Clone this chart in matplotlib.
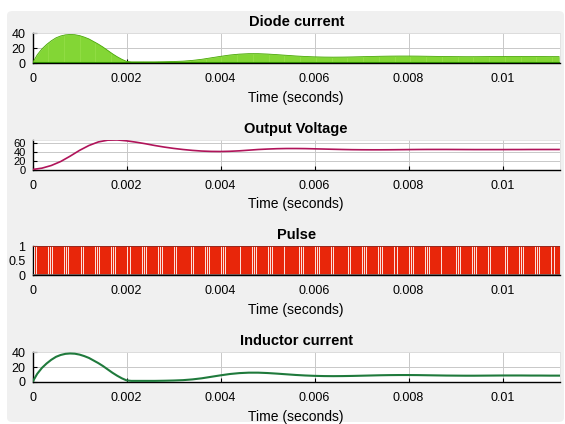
import numpy as np
import matplotlib
matplotlib.use("Agg")
import matplotlib.pyplot as plt
from matplotlib.patches import FancyBboxPatch

# ---------------- data ----------------
t_il = [0, 0.0001, 0.0002, 0.0003, 0.0004, 0.0005, 0.0006, 0.0007, 0.0008, 0.0009,
        0.0010, 0.0011, 0.0012, 0.0013, 0.0014, 0.0015, 0.0016, 0.0017, 0.0018, 0.0019,
        0.0020, 0.0021, 0.0022, 0.0024, 0.0026, 0.0028, 0.0030, 0.0032, 0.0034, 0.0036,
        0.0038, 0.0040, 0.0042, 0.0044, 0.0046, 0.0048, 0.0050, 0.0052, 0.0054, 0.0056,
        0.0058, 0.0060, 0.0062, 0.0064, 0.0066, 0.0068, 0.0070, 0.0072, 0.0074, 0.0076,
        0.0078, 0.0080, 0.0082, 0.0084, 0.0086, 0.0088, 0.0090, 0.0092, 0.0094, 0.0096,
        0.0098, 0.0100, 0.0102, 0.0104, 0.0106, 0.0108, 0.0110, 0.0112]
inductor_current = [0, 11, 19, 25, 30, 34, 36.5, 38, 38.5, 38.2,
                    37, 35, 32.5, 29, 25.5, 21.5, 17, 12.5, 8.5, 5,
                    2.2, 1.5, 1.5, 1.5, 1.5, 1.7, 2, 2.5, 3.5, 5,
                    7, 9, 10.8, 12, 12.6, 12.6, 12.1, 11.3, 10.4, 9.5,
                    8.8, 8.3, 8.0, 7.9, 8.0, 8.2, 8.5, 8.8, 9.1, 9.3,
                    9.4, 9.4, 9.3, 9.1, 8.9, 8.7, 8.6, 8.5, 8.5, 8.6,
                    8.7, 8.8, 8.8, 8.8, 8.7, 8.7, 8.6, 8.6]

t_v = [0, 0.0002, 0.0004, 0.0006, 0.0008, 0.0010, 0.0012, 0.0014, 0.0016, 0.0018,
       0.0020, 0.0022, 0.0024, 0.0026, 0.0028, 0.0030, 0.0032, 0.0034, 0.0036, 0.0038,
       0.0040, 0.0042, 0.0044, 0.0046, 0.0048, 0.0050, 0.0052, 0.0054, 0.0056, 0.0058,
       0.0060, 0.0062, 0.0064, 0.0066, 0.0068, 0.0070, 0.0072, 0.0074, 0.0076, 0.0078,
       0.0080, 0.0082, 0.0084, 0.0086, 0.0088, 0.0090, 0.0092, 0.0094, 0.0096, 0.0098,
       0.0100, 0.0102, 0.0104, 0.0106, 0.0108, 0.0110, 0.0112]
output_voltage = [0, 3, 9, 18, 30, 43, 54, 62, 66, 66.5,
                  64.5, 61.5, 58, 54, 50.5, 47.5, 45, 43, 41.5, 40.7,
                  40.5, 41, 42, 43.5, 45, 46, 46.8, 47.2, 47.2, 47,
                  46.5, 46, 45.5, 45, 44.6, 44.4, 44.3, 44.3, 44.4, 44.6,
                  44.8, 45, 45.1, 45.1, 45.1, 45, 44.9, 44.8, 44.8, 44.8,
                  44.8, 44.9, 44.9, 45, 45, 45, 45]

# pulse: groups of short off-intervals
pulse_group_period = 0.000334
pulse_gap_offsets = [0.0, 0.00004, 0.00008]
pulse_gap_width = 0.000018
diode_stripe_period = 0.00002

titles = ["Diode current", "Output Voltage", "Pulse", "Inductor current"]
xticks = [0, 0.002, 0.004, 0.006, 0.008, 0.01]
xtick_labels = ["0", "0.002", "0.004", "0.006", "0.008", "0.01"]
yticks = [[0, 20, 40], [0, 20, 40, 60], [0, 0.5, 1], [0, 20, 40]]
ytick_labels = [["0", "20", "40"], ["0", "20", "40", "60"], ["0", "0.5", "1"], ["0", "20", "40"]]
ylims = [(0, 40.5), (0, 67.5), (0, 1), (0, 40.5)]
t_end = 0.01122

# ---------------- figure ----------------
plt.rcParams['font.family'] = ['Liberation Sans', 'DejaVu Sans']
fig = plt.figure(figsize=(5.65, 4.24), dpi=100, facecolor='white')
W, H = 565, 424
bg = FancyBboxPatch((7 / W, 2 / H), 557 / W, 411 / H,
                    boxstyle="round,pad=0,rounding_size=0.01",
                    transform=fig.transFigure, facecolor='#f0f0f0',
                    edgecolor='none', zorder=-10)
fig.patches.append(bg)

panels = [(33, 63), (139.5, 169.5), (246, 275), (352, 382)]
axes = []
for i, (top, bot) in enumerate(panels):
    ax = fig.add_axes([32.5 / W, 1 - bot / H, (560 - 32.5) / W, (bot - top) / H])
    ax.set_facecolor('white')
    ax.set_xlim(0, t_end)
    ax.set_ylim(*ylims[i])
    ax.set_xticks(xticks)
    ax.set_xticklabels(xtick_labels)
    ax.set_yticks(yticks[i])
    ax.set_yticklabels(ytick_labels[i])
    ax.tick_params(direction='in', length=3, width=0.8, labelsize=9, pad=7.5,
                   colors='black')
    ax.tick_params(axis='y', pad=5, labelsize=8 if i == 1 else 9)
    ax.grid(True, color='#c8c8c8', linewidth=0.7)
    ax.set_axisbelow(True)
    for s in ['left', 'bottom']:
        ax.spines[s].set_color('black')
        ax.spines[s].set_linewidth(1.0)
    for s in ['top', 'right']:
        ax.spines[s].set_color('#e0e0e0')
        ax.spines[s].set_linewidth(0.6)
    ax.set_title(titles[i], fontsize=10.5, fontweight='bold', pad=5)
    ax.set_xlabel("Time (seconds)", fontsize=10, labelpad=4)
    axes.append(ax)

# Diode current (green, striped)
ax = axes[0]
poly = ax.fill_between(t_il, 0, inductor_current, color='#58c008', linewidth=0, zorder=2)
stripe_t = np.arange(0, t_end, diode_stripe_period)
vl = ax.vlines(stripe_t, 0, ylims[0][1], colors='#96e04a', linewidth=0.5, zorder=3)
vl.set_clip_path(poly.get_paths()[0], transform=ax.transData)
ax.plot(t_il, inductor_current, color='#4aa808', linewidth=0.6, zorder=4)
ax.axhline(0.4, color='#2e8a00', linewidth=1.5, zorder=4)

# Output voltage
axes[1].plot(t_v, output_voltage, color='#b0145a', linewidth=1.2, zorder=3)

# Pulse
ax = axes[2]
ax.axvspan(0, t_end, ymin=0, ymax=1, color='#e8260a', zorder=2)
group_starts = np.arange(0, t_end, pulse_group_period)
for g in group_starts:
    for off in pulse_gap_offsets:
        ax.axvspan(g + off, g + off + pulse_gap_width, color='white', linewidth=0,
                   alpha=0.85, zorder=3)
ax.axhline(1, color='#8a0a00', linewidth=1.2, zorder=4)
ax.axhline(0, color='#606060', linewidth=1.2, zorder=4)

# Inductor current
axes[3].plot(t_il, inductor_current, color='#1f7a3c', linewidth=1.5, zorder=3)

fig.savefig('out.png', dpi=100, facecolor='white')
